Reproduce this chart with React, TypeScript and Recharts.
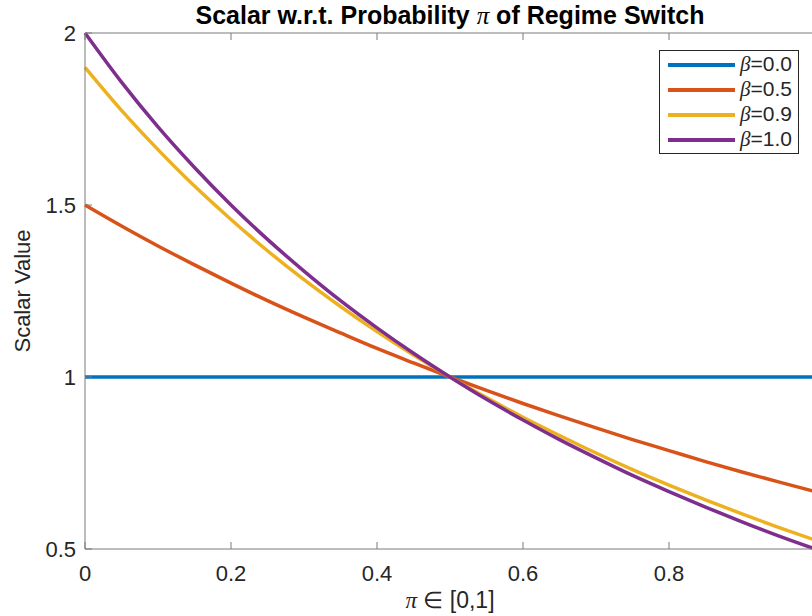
import { LineChart, Line, XAxis, YAxis, Legend, Label } from "recharts";

// pi grid and scalar values
const piValues = [0, 0.05, 0.1, 0.15, 0.2, 0.25, 0.3, 0.35, 0.4, 0.45, 0.5, 0.55, 0.6, 0.65, 0.7, 0.75, 0.8, 0.85, 0.9, 0.95, 1];
const beta00 = [1, 1, 1, 1, 1, 1, 1, 1, 1, 1, 1, 1, 1, 1, 1, 1, 1, 1, 1, 1, 1];
const beta05 = [1.5, 1.439, 1.381, 1.326, 1.273, 1.222, 1.174, 1.128, 1.083, 1.041, 1.0, 0.961, 0.923, 0.887, 0.852, 0.818, 0.786, 0.754, 0.724, 0.695, 0.667];
const beta09 = [1.9, 1.775, 1.661, 1.555, 1.458, 1.367, 1.283, 1.205, 1.132, 1.064, 1.0, 0.94, 0.883, 0.83, 0.779, 0.731, 0.686, 0.643, 0.602, 0.563, 0.526];
const beta10 = [2, 1.857, 1.727, 1.609, 1.5, 1.4, 1.308, 1.222, 1.143, 1.069, 1.0, 0.935, 0.875, 0.818, 0.765, 0.714, 0.667, 0.622, 0.579, 0.538, 0.5];

const xTicks = [0, 0.2, 0.4, 0.6, 0.8];
const yTicks = [0.5, 1, 1.5, 2];

const series = [
  { key: "b00", label: "0.0", color: "#0072BD", values: beta00 },
  { key: "b05", label: "0.5", color: "#D95319", values: beta05 },
  { key: "b09", label: "0.9", color: "#EDB120", values: beta09 },
  { key: "b10", label: "1.0", color: "#7E2F8E", values: beta10 },
];

const data = piValues.map((pi, i) => {
  const row: Record<string, number> = { pi };
  series.forEach((s) => (row[s.key] = s.values[i]));
  return row;
});

const FONT = '"Liberation Sans", Arial, sans-serif';
const SERIF = '"Liberation Serif", serif';
const AXIS = "#7a7a7a";
const INK = "#262626";

function TitleLabel({ viewBox }: any) {
  return (
    <text x={viewBox.x + viewBox.width / 2} y={24} textAnchor="middle" fontFamily={FONT} fontSize={25} fontWeight="bold" fill="#000">
      Scalar w.r.t. Probability <tspan fontStyle="italic" fontWeight="normal" fontFamily={SERIF}>π</tspan> of Regime Switch
    </text>
  );
}

function XLabel({ viewBox }: any) {
  return (
    <text x={viewBox.x + viewBox.width / 2} y={viewBox.y + 59} textAnchor="middle" fontFamily={FONT} fontSize={23} fill={INK}>
      <tspan fontFamily={SERIF} fontStyle="italic">π</tspan> ∈ [0,1]
    </text>
  );
}

function YLabel({ viewBox }: any) {
  const cx = viewBox.x + 22;
  const cy = viewBox.y + viewBox.height / 2;
  return (
    <text x={cx} y={cy} transform={`rotate(-90 ${cx} ${cy})`} textAnchor="middle" dominantBaseline="central" fontFamily={FONT} fontSize={22} fill={INK}>
      Scalar Value
    </text>
  );
}

function LegendBox() {
  return (
    <div
      style={{
        boxSizing: "border-box",
        width: 140,
        height: 104,
        border: "1px solid #262626",
        background: "#fff",
        padding: "1px 0 0 8px",
        fontFamily: FONT,
        fontSize: 21,
        color: INK,
        whiteSpace: "nowrap",
      }}
    >
      {series.map((s) => (
        <div key={s.key} style={{ display: "flex", alignItems: "center", height: 25 }}>
          <span style={{ display: "block", flex: "0 0 67px", height: 4, background: s.color, marginRight: 5 }} />
          <span style={{ flex: "0 0 auto" }}>
            <span style={{ fontFamily: SERIF, fontStyle: "italic" }}>β</span>={s.label}
          </span>
        </div>
      ))}
    </div>
  );
}

export default function App() {
  return (
    <div style={{ position: "fixed", left: 0, top: 0, width: 812, height: 616, overflow: "hidden", background: "#fff" }}>
      <LineChart width={830} height={616} data={data} margin={{ top: 32, right: 14, bottom: 0, left: 0 }}>
        <XAxis
          dataKey="pi"
          type="number"
          domain={[0, 1]}
          ticks={xTicks}
          height={67}
          tickSize={-7}
          tickMargin={23}
          stroke={AXIS}
          tick={{ fill: INK, fontSize: 22, fontFamily: FONT }}
        >
          <Label content={XLabel} />
        </XAxis>
        <XAxis
          xAxisId="top"
          orientation="top"
          dataKey="pi"
          type="number"
          domain={[0, 1]}
          ticks={xTicks}
          height={1}
          tickSize={-7}
          stroke={AXIS}
          tickFormatter={() => ""}
        >
          <Label content={TitleLabel} />
        </XAxis>
        <YAxis
          type="number"
          domain={[0.5, 2]}
          ticks={yTicks}
          width={85}
          tickSize={-7}
          tickMargin={16}
          stroke={AXIS}
          tick={{ fill: INK, fontSize: 22, fontFamily: FONT }}
        >
          <Label content={YLabel} />
        </YAxis>
        <YAxis
          yAxisId="right"
          orientation="right"
          type="number"
          domain={[0.5, 2]}
          ticks={yTicks}
          width={1}
          tickSize={-7}
          stroke={AXIS}
          tickFormatter={() => ""}
        />
        <Legend
          layout="vertical"
          align="center"
          verticalAlign="middle"
          content={LegendBox}
          wrapperStyle={{ top: 50, left: 659, width: 140 }}
        />
        {series.map((s) => (
          <Line
            key={s.key}
            type="monotone"
            dataKey={s.key}
            stroke={s.color}
            strokeWidth={3.5}
            dot={false}
            isAnimationActive={false}
          />
        ))}
      </LineChart>
    </div>
  );
}
